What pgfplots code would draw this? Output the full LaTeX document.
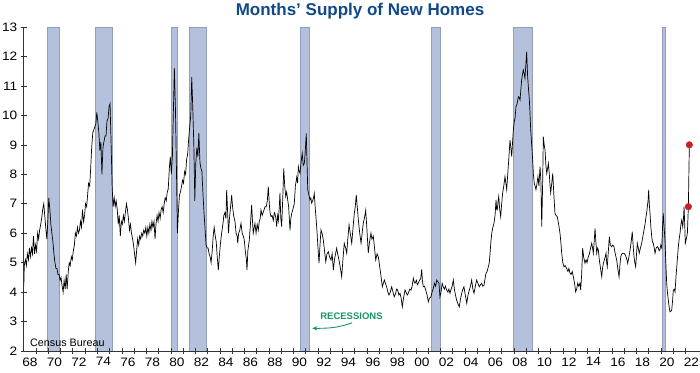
\documentclass[border=0pt]{standalone}
\usepackage{fontspec}
\setmainfont{Liberation Sans}
\newfontfamily\tickfont[FakeStretch=1.12]{Liberation Sans}
\usepackage{pgfplots}
\pgfplotsset{compat=1.18}
\usetikzlibrary{arrows.meta}
\definecolor{recfill}{RGB}{180,193,220}
\definecolor{recdraw}{RGB}{145,157,185}
\definecolor{titleblue}{RGB}{16,72,138}
\definecolor{recgreen}{RGB}{22,150,100}
\definecolor{dotred}{RGB}{200,32,40}
\pgfplotstableread{
x y
1968.00 4.2
1968.04 4.9
1968.13 5.1
1968.21 4.9
1968.29 5.3
1968.38 5.1
1968.46 5.5
1968.54 5.2
1968.63 5.5
1968.71 5.3
1968.79 5.9
1968.88 5.3
1968.96 5.6
1969.04 5.4
1969.13 6.0
1969.21 5.8
1969.29 6.1
1969.38 6.3
1969.46 6.5
1969.54 6.8
1969.63 7.0
1969.71 6.6
1969.79 6.2
1969.88 5.8
1969.96 6.4
1970.04 7.2
1970.13 6.8
1970.21 6.3
1970.29 6.0
1970.38 5.7
1970.46 5.3
1970.54 5.0
1970.63 4.8
1970.71 4.8
1970.79 4.6
1970.88 4.6
1970.96 4.4
1971.04 4.5
1971.13 4.2
1971.21 4.0
1971.29 4.4
1971.38 4.1
1971.46 4.6
1971.54 4.1
1971.63 4.7
1971.71 5.0
1971.79 4.9
1971.88 5.2
1971.96 5.1
1972.04 5.4
1972.13 5.6
1972.21 6.0
1972.29 5.9
1972.38 6.2
1972.46 6.0
1972.54 6.1
1972.63 6.4
1972.71 6.2
1972.79 6.8
1972.88 6.4
1972.96 6.6
1973.04 7.0
1973.13 6.9
1973.21 7.3
1973.29 7.7
1973.38 7.6
1973.46 8.2
1973.54 8.9
1973.63 9.4
1973.71 9.5
1973.79 9.6
1973.88 9.7
1973.96 10.1
1974.04 9.8
1974.13 9.4
1974.21 8.8
1974.29 9.1
1974.38 8.0
1974.46 8.9
1974.54 9.1
1974.63 9.3
1974.71 9.3
1974.79 9.8
1974.88 9.9
1974.96 10.3
1975.04 10.4
1975.13 9.0
1975.21 7.6
1975.29 6.9
1975.38 7.2
1975.46 6.9
1975.54 7.1
1975.63 6.8
1975.71 6.3
1975.79 6.6
1975.88 5.9
1975.96 6.4
1976.04 6.3
1976.13 6.6
1976.21 6.4
1976.29 6.7
1976.38 7.0
1976.46 6.8
1976.54 6.5
1976.63 6.1
1976.71 6.3
1976.79 6.0
1976.88 5.8
1976.96 5.6
1977.04 5.3
1977.13 5.0
1977.21 5.4
1977.29 5.8
1977.38 5.6
1977.46 5.9
1977.54 5.8
1977.63 6.0
1977.71 5.9
1977.79 6.1
1977.88 6.0
1977.96 6.2
1978.04 5.9
1978.13 6.2
1978.21 6.0
1978.29 6.3
1978.38 6.1
1978.46 6.4
1978.54 6.2
1978.63 6.4
1978.71 5.8
1978.79 6.3
1978.88 6.6
1978.96 6.4
1979.04 6.7
1979.13 6.5
1979.21 6.8
1979.29 6.9
1979.38 6.7
1979.46 7.0
1979.54 7.2
1979.63 7.1
1979.71 7.4
1979.79 7.5
1979.88 8.2
1979.96 8.6
1980.04 8.0
1980.13 8.6
1980.21 10.1
1980.29 11.6
1980.38 10.2
1980.46 8.2
1980.54 6.0
1980.63 6.8
1980.71 7.3
1980.79 7.4
1980.88 7.6
1980.96 7.8
1981.04 7.7
1981.13 8.1
1981.21 8.0
1981.29 8.5
1981.38 8.7
1981.46 9.2
1981.54 9.6
1981.63 10.0
1981.71 11.3
1981.79 10.3
1981.88 9.0
1981.96 7.1
1982.04 8.4
1982.13 8.9
1982.21 8.6
1982.29 9.4
1982.38 8.4
1982.46 8.2
1982.54 8.1
1982.63 7.3
1982.71 6.7
1982.79 6.2
1982.88 5.6
1982.96 5.5
1983.04 5.5
1983.13 5.3
1983.21 5.2
1983.29 5.0
1983.38 5.4
1983.46 5.9
1983.54 6.2
1983.63 5.9
1983.71 5.7
1983.79 5.2
1983.88 4.75
1983.96 5.2
1984.04 5.6
1984.15 6.0
1984.25 6.3
1984.33 6.6
1984.42 6.7
1984.50 6.5
1984.56 7.46
1984.63 6.8
1984.71 6.0
1984.79 6.5
1984.88 6.9
1984.97 7.3
1985.04 6.9
1985.13 6.6
1985.24 6.4
1985.33 6.0
1985.42 5.9
1985.46 5.66
1985.54 6.0
1985.63 6.1
1985.73 6.33
1985.83 6.0
1985.92 5.9
1986.00 5.77
1986.08 5.4
1986.17 5.1
1986.22 4.75
1986.29 5.4
1986.41 5.77
1986.50 6.3
1986.60 6.96
1986.67 6.4
1986.73 6.0
1986.81 6.2
1986.87 6.33
1986.96 6.0
1987.05 6.3
1987.14 6.1
1987.22 6.4
1987.30 6.5
1987.36 6.79
1987.46 6.6
1987.54 6.7
1987.62 6.8
1987.69 6.9
1987.79 6.9
1987.88 7.1
1987.96 7.58
1988.04 7.0
1988.10 6.7
1988.18 6.56
1988.27 6.6
1988.37 6.43
1988.45 6.7
1988.50 6.67
1988.58 6.5
1988.64 6.22
1988.72 6.6
1988.78 6.43
1988.86 6.9
1988.91 7.37
1988.98 6.5
1989.05 6.22
1989.14 7.2
1989.22 8.2
1989.30 7.6
1989.38 7.25
1989.46 7.4
1989.54 7.14
1989.62 6.9
1989.73 6.1
1989.80 6.5
1989.87 6.67
1989.96 6.8
1990.08 7.0
1990.17 7.6
1990.28 7.9
1990.35 7.7
1990.41 8.26
1990.48 8.1
1990.55 8.03
1990.63 8.4
1990.73 8.71
1990.81 8.3
1990.90 8.37
1990.98 8.8
1991.06 9.39
1991.12 8.4
1991.18 7.47
1991.27 7.3
1991.36 7.13
1991.43 7.2
1991.50 7.02
1991.58 7.1
1991.65 7.2
1991.71 7.35
1991.80 6.8
1991.91 6.22
1992.00 5.6
1992.10 4.98
1992.18 5.6
1992.26 6.11
1992.35 6.0
1992.45 5.77
1992.55 5.4
1992.65 5.03
1992.75 5.3
1992.86 5.37
1992.96 5.2
1993.08 5.09
1993.17 5.3
1993.27 4.75
1993.36 5.1
1993.45 5.3
1993.54 5.49
1993.62 5.3
1993.73 5.09
1993.85 4.8
1993.95 4.52
1994.05 5.1
1994.16 5.66
1994.27 5.5
1994.36 5.32
1994.45 5.8
1994.55 6.28
1994.65 6.0
1994.77 5.66
1994.88 6.2
1994.98 6.67
1995.06 6.9
1995.14 7.3
1995.22 6.9
1995.31 6.45
1995.42 6.0
1995.53 5.66
1995.62 6.0
1995.71 6.33
1995.80 6.5
1995.91 6.78
1996.00 6.2
1996.12 5.32
1996.22 5.7
1996.34 6.0
1996.42 5.8
1996.53 5.9
1996.63 5.5
1996.73 5.09
1996.84 5.3
1996.94 5.2
1997.04 4.9
1997.13 4.64
1997.20 4.4
1997.27 4.18
1997.35 4.3
1997.43 4.41
1997.52 4.3
1997.62 4.18
1997.72 4.0
1997.81 3.9
1997.92 4.0
1998.03 4.18
1998.14 4.0
1998.24 3.84
1998.35 3.95
1998.44 4.1
1998.52 4.07
1998.62 3.9
1998.71 3.96
1998.80 3.8
1998.90 3.5
1999.00 3.8
1999.12 4.07
1999.20 4.0
1999.30 3.9
1999.39 3.96
1999.50 4.1
1999.61 4.07
1999.70 4.2
1999.80 4.47
1999.87 4.35
1999.93 4.3
2000.05 4.4
2000.12 4.25
2000.20 4.3
2000.30 4.4
2000.40 4.45
2000.48 4.77
2000.54 4.4
2000.61 4.18
2000.71 4.2
2000.81 4.07
2000.92 3.9
2001.02 3.67
2001.12 3.8
2001.24 3.84
2001.33 4.0
2001.43 4.13
2001.52 4.3
2001.62 4.2
2001.71 4.41
2001.80 4.35
2001.89 4.3
2001.97 3.84
2002.06 4.0
2002.15 4.3
2002.24 4.18
2002.33 4.1
2002.42 4.2
2002.52 4.07
2002.62 4.0
2002.70 4.1
2002.79 3.96
2002.88 4.1
2002.97 4.2
2003.06 4.41
2003.15 4.1
2003.24 3.9
2003.33 3.73
2003.44 3.6
2003.55 3.5
2003.64 3.75
2003.75 3.96
2003.84 4.1
2003.93 4.18
2004.04 3.9
2004.16 3.62
2004.26 3.9
2004.37 4.07
2004.46 4.2
2004.56 4.41
2004.66 4.1
2004.75 3.96
2004.86 4.2
2004.97 4.41
2005.07 4.3
2005.18 4.18
2005.28 4.25
2005.38 4.3
2005.47 4.2
2005.57 4.24
2005.65 4.45
2005.73 4.64
2005.82 4.7
2005.92 4.86
2006.00 5.0
2006.06 5.32
2006.13 5.7
2006.20 6.0
2006.29 6.2
2006.38 6.33
2006.47 6.6
2006.55 7.13
2006.60 6.8
2006.65 6.79
2006.72 7.1
2006.77 7.25
2006.85 6.8
2006.93 6.56
2007.01 7.0
2007.09 7.37
2007.18 7.6
2007.28 7.92
2007.35 7.7
2007.42 7.48
2007.49 7.9
2007.55 8.26
2007.62 8.7
2007.69 9.16
2007.76 8.9
2007.83 8.6
2007.90 9.1
2007.96 9.5
2008.04 9.8
2008.10 9.9
2008.18 10.29
2008.27 10.4
2008.37 10.63
2008.44 10.6
2008.51 10.52
2008.58 10.9
2008.64 11.2
2008.71 11.4
2008.78 11.54
2008.85 11.4
2008.91 11.26
2008.98 11.7
2009.05 12.16
2009.13 11.31
2009.20 10.9
2009.27 10.52
2009.33 10.0
2009.38 9.5
2009.46 9.0
2009.54 8.48
2009.60 8.0
2009.67 7.69
2009.74 7.6
2009.81 7.48
2009.90 7.7
2009.97 7.92
2010.05 7.6
2010.14 8.26
2010.21 7.8
2010.28 6.22
2010.35 7.6
2010.41 9.28
2010.48 9.0
2010.55 8.82
2010.62 8.3
2010.69 8.03
2010.76 8.2
2010.82 8.37
2010.90 8.0
2010.96 7.6
2011.01 7.37
2011.10 7.7
2011.18 8.03
2011.27 7.3
2011.36 6.67
2011.45 6.6
2011.55 6.56
2011.66 6.3
2011.77 6.0
2011.84 5.7
2011.91 5.32
2012.00 5.0
2012.10 4.86
2012.20 4.9
2012.32 4.8
2012.42 4.7
2012.50 4.8
2012.59 4.64
2012.68 4.6
2012.77 4.7
2012.86 4.52
2012.96 4.3
2013.05 4.01
2013.13 4.1
2013.22 4.3
2013.30 4.2
2013.40 4.3
2013.46 4.07
2013.54 4.6
2013.62 5.49
2013.70 5.2
2013.81 4.98
2013.90 5.1
2013.98 5.0
2014.08 5.2
2014.17 5.3
2014.27 5.5
2014.36 5.66
2014.43 5.5
2014.49 5.32
2014.56 5.7
2014.63 6.16
2014.70 5.7
2014.77 5.32
2014.84 5.5
2014.90 5.43
2014.98 5.1
2015.08 4.8
2015.18 4.52
2015.24 4.8
2015.31 4.98
2015.40 5.1
2015.46 5.2
2015.53 5.32
2015.58 5.0
2015.63 4.86
2015.72 5.4
2015.80 5.88
2015.88 5.6
2015.99 5.54
2016.08 5.6
2016.18 5.54
2016.28 5.3
2016.40 5.09
2016.49 4.8
2016.59 4.52
2016.66 4.9
2016.73 5.2
2016.82 5.3
2016.94 5.32
2017.05 5.3
2017.16 5.2
2017.23 5.1
2017.30 4.98
2017.40 5.2
2017.49 5.43
2017.58 5.7
2017.67 6.05
2017.74 5.6
2017.81 5.2
2017.88 5.0
2017.95 4.86
2018.02 5.3
2018.08 5.66
2018.16 5.5
2018.24 5.32
2018.34 5.5
2018.44 5.66
2018.54 5.9
2018.63 6.11
2018.71 6.3
2018.79 6.56
2018.85 6.7
2018.90 6.9
2018.96 7.1
2019.01 7.47
2019.06 7.0
2019.12 6.67
2019.19 6.2
2019.26 5.88
2019.32 5.7
2019.39 5.66
2019.46 5.5
2019.53 5.32
2019.62 5.5
2019.71 5.54
2019.80 5.5
2019.86 5.4
2019.93 5.43
2020.00 5.6
2020.08 5.5
2020.14 6.2
2020.20 6.67
2020.27 6.2
2020.34 5.77
2020.41 5.0
2020.48 4.3
2020.54 4.0
2020.61 3.73
2020.68 3.5
2020.75 3.33
2020.82 3.35
2020.89 3.39
2020.96 3.7
2021.02 4.07
2021.09 4.1
2021.16 4.01
2021.24 4.52
2021.33 5.0
2021.43 5.54
2021.50 5.8
2021.57 6.0
2021.64 6.3
2021.71 6.45
2021.79 6.22
2021.85 6.5
2021.90 6.9
2021.96 6.2
2022.00 5.66
2022.08 5.8
2022.17 6.0
2022.25 6.9
2022.33 9.0
}\supply
\begin{document}
\begin{tikzpicture}
\useasboundingbox (-23.8pt,-21pt) rectangle (676.2pt,351pt);
\begin{axis}[
  at={(0pt,0pt)}, anchor=south west,
  scale only axis, width=676.2pt, height=324pt,
  xmin=1968, xmax=2023.2, ymin=2, ymax=13,
  axis lines=left,
  axis line style={-, draw=black!80, line width=0.6pt},
  axis on top,
  clip=false,
  ytick={2,3,4,5,6,7,8,9,10,11,12,13},
  xtick={1969,1970,1971,1972,1973,1974,1975,1976,1977,1978,1979,1980,1981,1982,1983,1984,1985,1986,1987,1988,1989,1990,1991,1992,1993,1994,1995,1996,1997,1998,1999,2000,2001,2002,2003,2004,2005,2006,2007,2008,2009,2010,2011,2012,2013,2014,2015,2016,2017,2018,2019,2020,2021,2022},
  xticklabels={},
  extra x ticks={1968.5,1970.5,1972.5,1974.5,1976.5,1978.5,1980.5,1982.5,1984.5,1986.5,1988.5,1990.5,1992.5,1994.5,1996.5,1998.5,2000.5,2002.5,2004.5,2006.5,2008.5,2010.5,2012.5,2014.5,2016.5,2018.5,2020.5,2022.5},
  extra x tick labels={68,70,72,74,76,78,80,82,84,86,88,90,92,94,96,98,00,02,04,06,08,10,12,14,16,18,20,22},
  extra x tick style={major tick length=0pt, xticklabel style={yshift=-3pt}},
  tick align=center, major tick length=6pt,
  tick style={draw=black!80, line width=0.6pt},
  tick label style={font=\tickfont\fontsize{12.2}{12.2}\selectfont, text=black},
  /pgf/number format/assume math mode=true,
]
\addplot[fill=recfill, draw=recdraw, line width=0.5pt] coordinates {(1969.90,2)(1969.90,13)(1970.87,13)(1970.87,2)} -- cycle;
\addplot[fill=recfill, draw=recdraw, line width=0.5pt] coordinates {(1973.84,2)(1973.84,13)(1975.18,13)(1975.18,2)} -- cycle;
\addplot[fill=recfill, draw=recdraw, line width=0.5pt] coordinates {(1980.02,2)(1980.02,13)(1980.56,13)(1980.56,2)} -- cycle;
\addplot[fill=recfill, draw=recdraw, line width=0.5pt] coordinates {(1981.51,2)(1981.51,13)(1982.93,13)(1982.93,2)} -- cycle;
\addplot[fill=recfill, draw=recdraw, line width=0.5pt] coordinates {(1990.57,2)(1990.57,13)(1991.27,13)(1991.27,2)} -- cycle;
\addplot[fill=recfill, draw=recdraw, line width=0.5pt] coordinates {(2001.24,2)(2001.24,13)(2001.97,13)(2001.97,2)} -- cycle;
\addplot[fill=recfill, draw=recdraw, line width=0.5pt] coordinates {(2007.96,2)(2007.96,13)(2009.54,13)(2009.54,2)} -- cycle;
\addplot[fill=recfill, draw=recdraw, line width=0.5pt] coordinates {(2020.13,2)(2020.13,13)(2020.35,13)(2020.35,2)} -- cycle;
\addplot[black, line width=0.7pt, mark=none] table[x=x, y=y] {\supply};
\addplot[only marks, mark=*, mark size=3.3pt, color=dotred, mark options={draw=dotred, fill=dotred}] coordinates {(2022.25,6.9) (2022.33,9.0)};
\node[anchor=base west, inner sep=0pt, font=\fontsize{10.8}{10.8}\selectfont] at (axis cs:1968.5,2.168) {Census Bureau};
\node[font=\bfseries\fontsize{9.5}{9.5}\selectfont, text=recgreen] at (axis cs:1994.75,3.19) {RECESSIONS};
\draw[recgreen, line width=0.9pt, -{Stealth[length=5pt,width=4.5pt]}] (axis cs:1994.8,2.96) to[out=200,in=0] (axis cs:1991.55,2.77);
\node[anchor=base, font=\bfseries\fontsize{17}{17}\selectfont, text=titleblue] at (rel axis cs:0.4972,1.037) {Months’ Supply of New Homes};
\end{axis}
\end{tikzpicture}
\end{document}
